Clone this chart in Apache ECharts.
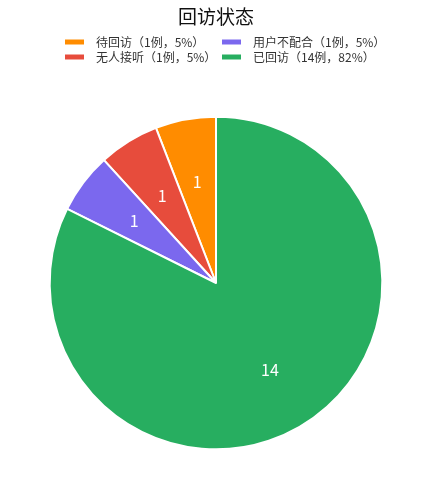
<!DOCTYPE html>
<html lang="zh">
<head>
    <meta charset="UTF-8">
    <title>回访状态</title>
    <script src="https://cdn.jsdelivr.net/npm/echarts@6/dist/echarts.min.js"></script>
    <style>
        html, body { margin: 0; padding: 0; background: #fff; }
        #main { width: 432px; height: 500px; }
    </style>
</head>
<body>
<div id="main"></div>
<script>
    // 数据
    var names = ['待回访', '无人接听', '用户不配合', '已回访'];
    var counts = [1, 1, 1, 14];
    var percents = ['5%', '5%', '5%', '82%'];
    var colors = ['#FF8C00', '#E74C3C', '#7B68EE', '#27AE60'];

    var chart = echarts.init(document.getElementById('main'));
    var font = '"Noto Sans CJK SC", "DejaVu Sans", sans-serif';

    var pieData = names.map(function (n, i) {
        return { name: n, value: counts[i], itemStyle: { color: colors[i] } };
    });

    function legendLabel(name) {
        var i = names.indexOf(name);
        return name + '（' + counts[i] + '例，' + percents[i] + '）';
    }

    var legendBase = {
        orient: 'vertical',
        top: 31,
        itemWidth: 21,
        itemHeight: 7,
        itemGap: 3,
        icon: 'rect',
        formatter: legendLabel,
        textStyle: { fontSize: 12, color: '#333', fontFamily: font, padding: [0, 0, 0, 6] }
    };

    var option = {
        title: {
            text: '回访状态',
            left: 'center',
            top: 2,
            textStyle: { fontSize: 19, fontWeight: 'normal', color: '#111', fontFamily: font }
        },
        legend: [
            Object.assign({}, legendBase, { left: 58, data: [names[0], names[1]] }),
            Object.assign({}, legendBase, { left: 215, data: [names[2], names[3]] })
        ],
        series: [{
            // 主饼图
            type: 'pie',
            radius: '77%',
            center: ['50%', '56.6%'],
            startAngle: 90,
            clockwise: false,
            silent: true,
            itemStyle: { borderColor: '#fff', borderWidth: 2 },
            label: { show: false },
            labelLine: { show: false },
            data: pieData
        }, {
            // 透明层，只用来放数值标签
            type: 'pie',
            radius: ['15%', '77%'],
            center: ['50%', '56.6%'],
            startAngle: 90,
            clockwise: false,
            silent: true,
            legendHoverLink: false,
            itemStyle: { color: 'transparent', borderWidth: 0 },
            label: {
                show: true,
                position: 'inside',
                formatter: '{c}',
                color: '#fff',
                fontSize: 16,
                fontFamily: font
            },
            labelLine: { show: false },
            data: names.map(function (n, i) { return { name: n, value: counts[i] }; })
        }]
    };
    chart.setOption(option);
    window.onresize = function () { chart.resize(); };
</script>
</body>
</html>
